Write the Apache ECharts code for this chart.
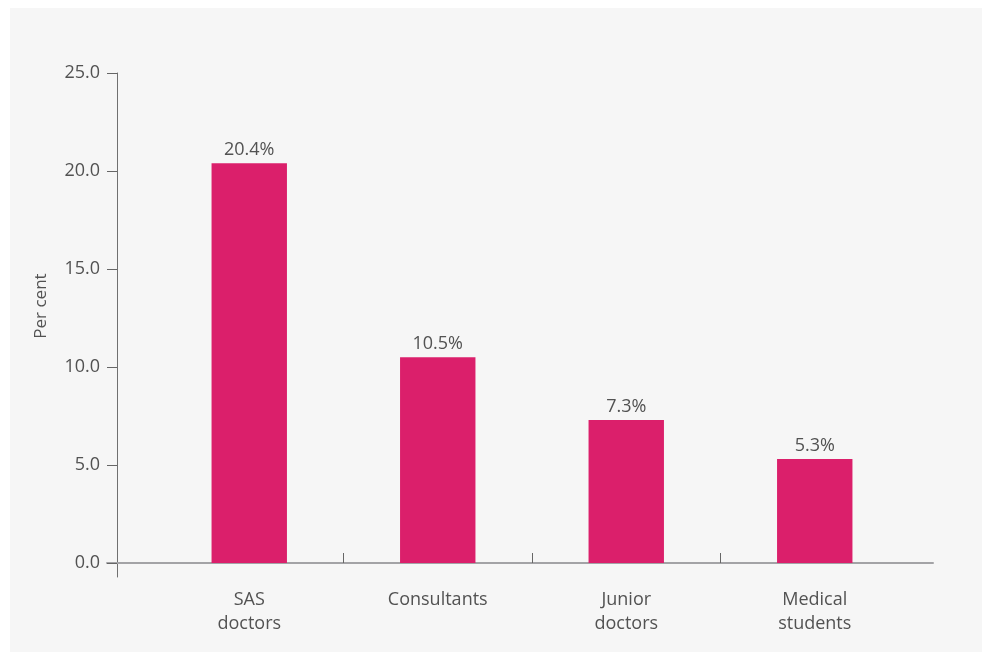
<!DOCTYPE html>
<html>
<head>
<meta charset="utf-8">
<script src="https://cdn.jsdelivr.net/npm/echarts@6/dist/echarts.min.js"></script>
<style>
  html, body { margin: 0; padding: 0; background: #ffffff; }
  #panel { position: absolute; left: 10px; top: 8px; width: 972px; height: 644px; background: #f6f6f6; }
  #chart { position: absolute; left: 0; top: 0; width: 982px; height: 659px; }
</style>
</head>
<body>
<div id="panel"></div>
<div id="chart"></div>
<script>
const categories = ['SAS\ndoctors', 'Consultants', 'Junior\ndoctors', 'Medical\nstudents'];
const values = [20.4, 10.5, 7.3, 5.3];
const yTicks = { min: 0, max: 25, interval: 5 };
const axisName = 'Per cent';

const FONT = '"Open Sans", Lato, sans-serif';
const TXT = '#525252';
const FS = 18;

const chart = echarts.init(document.getElementById('chart'), null, { renderer: 'canvas' });
chart.setOption({
  backgroundColor: 'transparent',
  animation: false,
  grid: [
    { left: 155, right: 73, top: 73, bottom: 96 },
    { left: 117, right: 73, top: 73, bottom: 82 },
    { left: 107, right: 49, top: 73, bottom: 96 }
  ],
  xAxis: [
    {
      gridIndex: 0, type: 'category', data: categories, boundaryGap: true,
      axisLine: { show: false }, axisTick: { show: false },
      axisLabel: { color: TXT, fontFamily: FONT, fontSize: FS, lineHeight: 24, margin: 25 }
    },
    { gridIndex: 1, type: 'value', show: false },
    {
      gridIndex: 2, type: 'value', min: -0.2546, max: 4.127,
      splitLine: { show: false }, axisLabel: { show: false },
      axisLine: { show: true, lineStyle: { color: '#a3a3a6', width: 2 } },
      axisTick: { show: true, inside: true, length: 10, customValues: [1, 2, 3], lineStyle: { color: '#666666', width: 1 } }
    }
  ],
  yAxis: [
    {
      gridIndex: 0, type: 'value', min: yTicks.min, max: yTicks.max, interval: yTicks.interval,
      offset: 38,
      name: axisName, nameLocation: 'middle', nameGap: 67,
      nameTextStyle: { color: TXT, fontFamily: FONT, fontSize: 17, padding: [0, 0, 0, 24] },
      splitLine: { show: false },
      axisLine: { show: false },
      axisTick: { show: true, length: 10, lineStyle: { color: '#666666' } },
      axisLabel: { color: TXT, fontFamily: FONT, fontSize: FS, margin: 17, formatter: v => v.toFixed(1) }
    },
    {
      gridIndex: 1, type: 'value', min: 0, max: 1,
      splitLine: { show: false }, axisLabel: { show: false }, axisTick: { show: false },
      axisLine: { show: true, lineStyle: { color: '#707070', width: 1 } }
    },
    { gridIndex: 2, type: 'value', show: false }
  ],
  series: [
    {
      type: 'bar', xAxisIndex: 0, yAxisIndex: 0, data: values, barWidth: '40%',
      itemStyle: { color: '#db1f6b' },
      label: { show: true, position: 'top', distance: 4, color: TXT, fontFamily: FONT, fontSize: FS, formatter: p => p.value.toFixed(1) + '%' }
    }
  ]
});
</script>
</body>
</html>
